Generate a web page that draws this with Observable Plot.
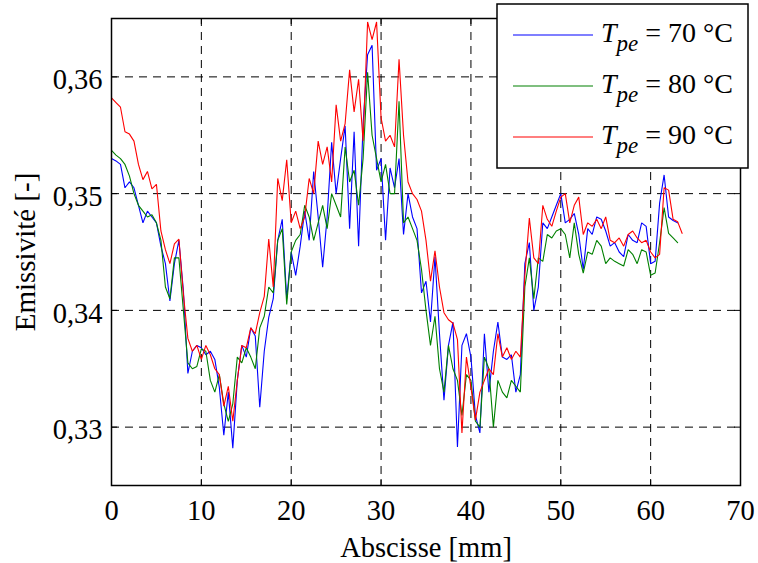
<!DOCTYPE html>
<html>
<head>
<meta charset="utf-8">
<script src="https://cdn.jsdelivr.net/npm/d3@7"></script>
<script src="https://cdn.jsdelivr.net/npm/@observablehq/plot@0.6"></script>
<style>
  html, body { margin: 0; padding: 0; background: white; }
  #chart { width: 758px; height: 563px; }
</style>
</head>
<body>
<div id="chart"></div>
<script>
const abscisse = [
  0,0.5,1,1.5,2,2.5,3,3.5,4,4.5, 5,5.5,6,6.5,7,7.5,8,8.5,9,9.5,
  10,10.5,11,11.5,12,12.5,13,13.5,14,14.5, 15,15.5,16,16.5,17,17.5,18,18.5,19,19.5,
  20,20.5,21,21.5,22,22.5,23,23.5,24,24.5, 25,25.5,26,26.5,27,27.5,28,28.5,29,29.5,
  30,30.5,31,31.5,32,32.5,33,33.5,34,34.5, 35,35.5,36,36.5,37,37.5,38,38.5,39,39.5,
  40,40.5,41,41.5,42,42.5,43,43.5,44,44.5, 45,45.5,46,46.5,47,47.5,48,48.5,49,49.5,
  50,50.5,51,51.5,52,52.5,53,53.5,54,54.5, 55,55.5,56,56.5,57,57.5,58,58.5,59,59.5,
  60,60.5,61,61.5,62,62.5,63,63.5
];

const emis70 = [
  0.3530,0.3528,0.3525,0.3505,0.3510,0.3505,0.3490,0.3475,0.3485,0.3480,
  0.3475,0.3455,0.3440,0.3408,0.3440,0.3460,0.3417,0.3346,0.3365,0.3370,
  0.3368,0.3362,0.3365,0.3358,0.3334,0.3293,0.3330,0.3282,0.3340,0.3370,
  0.3360,0.3385,0.3378,0.3317,0.3365,0.3394,0.3410,0.3460,0.3478,0.3410,
  0.3450,0.3430,0.3455,0.3485,0.3460,0.3519,0.3480,0.3437,0.3480,0.3544,
  0.3500,0.3530,0.3558,0.3470,0.3553,0.3455,0.3560,0.3619,0.3627,0.3520,
  0.3530,0.3460,0.3522,0.3505,0.3530,0.3465,0.3500,0.3480,0.3470,0.3415,
  0.3425,0.3390,0.3446,0.3380,0.3323,0.3370,0.3390,0.3283,0.3370,0.3380,
  0.3360,0.3310,0.3295,0.3380,0.3330,0.3365,0.3390,0.3360,0.3358,0.3362,
  0.3330,0.3345,0.3440,0.3458,0.3400,0.3420,0.3475,0.3470,0.3480,0.3490,
  0.3500,0.3475,0.3478,0.3483,0.3465,0.3435,0.3470,0.3465,0.3480,0.3478,
  0.3468,0.3455,0.3458,0.3450,0.3446,0.3465,0.3460,0.3458,0.3475,0.3472,
  0.3440,0.3442,0.3492,0.3516,0.3480,0.3477,0.3475
];

const emis80 = [
  0.3537,0.3533,0.3530,0.3525,0.3515,0.3500,0.3490,0.3485,0.3480,0.3482,
  0.3475,0.3460,0.3420,0.3410,0.3445,0.3445,0.3400,0.3355,0.3350,0.3352,
  0.3367,0.3365,0.3340,0.3330,0.3345,0.3320,0.3305,0.3320,0.3360,0.3355,
  0.3368,0.3360,0.3350,0.3385,0.3395,0.3420,0.3415,0.3460,0.3470,0.3405,
  0.3450,0.3460,0.3465,0.3490,0.3480,0.3460,0.3475,0.3490,0.3470,0.3500,
  0.3490,0.3480,0.3540,0.3510,0.3520,0.3490,0.3530,0.3604,0.3550,0.3530,
  0.3510,0.3525,0.3500,0.3500,0.3579,0.3475,0.3480,0.3470,0.3460,0.3435,
  0.3400,0.3370,0.3395,0.3350,0.3330,0.3370,0.3350,0.3340,0.3310,0.3345,
  0.3340,0.3305,0.3300,0.3360,0.3350,0.3300,0.3340,0.3330,0.3325,0.3340,
  0.3335,0.3330,0.3420,0.3445,0.3410,0.3445,0.3442,0.3465,0.3462,0.3468,
  0.3470,0.3465,0.3445,0.3475,0.3448,0.3432,0.3450,0.3448,0.3460,0.3455,
  0.3440,0.3445,0.3442,0.3440,0.3438,0.3452,0.3448,0.3440,0.3452,0.3450,
  0.3430,0.3432,0.3458,0.3488,0.3466,0.3462,0.3458
];

const emis90 = [
  0.3582,0.3578,0.3574,0.3553,0.3551,0.3545,0.3525,0.3512,0.3519,0.3504,
  0.3508,0.3468,0.3452,0.3440,0.3457,0.3461,0.3414,0.3376,0.3365,0.3370,
  0.3358,0.3370,0.3362,0.3350,0.3345,0.3318,0.3335,0.3305,0.3340,0.3370,
  0.3368,0.3385,0.3380,0.3398,0.3412,0.3461,0.3420,0.3513,0.3494,0.3529,
  0.3475,0.3485,0.3470,0.3480,0.3513,0.3500,0.3545,0.3525,0.3540,0.3510,
  0.3576,0.3545,0.3560,0.3606,0.3570,0.3598,0.3545,0.3647,0.3632,0.3647,
  0.3565,0.3545,0.3550,0.3540,0.3615,0.3550,0.3510,0.3500,0.3495,0.3485,
  0.3460,0.3425,0.3451,0.3420,0.3398,0.3392,0.3389,0.3375,0.3295,0.3360,
  0.3334,0.3306,0.3330,0.3340,0.3350,0.3345,0.3380,0.3360,0.3368,0.3358,
  0.3365,0.3360,0.3430,0.3479,0.3445,0.3440,0.3490,0.3478,0.3472,0.3485,
  0.3497,0.3500,0.3475,0.3490,0.3497,0.3465,0.3475,0.3472,0.3478,0.3470,
  0.3480,0.3460,0.3458,0.3462,0.3455,0.3465,0.3468,0.3462,0.3458,0.3460,
  0.3450,0.3445,0.3448,0.3505,0.3503,0.3478,0.3476,0.3466
];

const seriesNames = ["70 °C", "80 °C", "90 °C"];
const seriesColors = ["#0000ff", "#008000", "#ff0000"];
const xTicks = [0, 10, 20, 30, 40, 50, 60, 70];
const yTicks = [0.33, 0.34, 0.35, 0.36];
const xLabel = "Abscisse [mm]";
const yLabel = "Emissivité [-]";

const seriesValues = [emis70, emis80, emis90];
const rows = seriesValues.flatMap((vals, s) =>
  vals.map((v, i) => ({x: abscisse[i], y: v, serie: seriesNames[s]})));

const fmtY = d => d.toFixed(2).replace(".", ",");

const plot = Plot.plot({
  width: 758,
  height: 563,
  marginLeft: 111,
  marginRight: 18,
  marginTop: 18,
  marginBottom: 78,
  style: {fontFamily: "'Liberation Serif', 'Times New Roman', serif", fontSize: "28.5px", color: "black", background: "white", overflow: "visible"},
  x: {domain: [0, 70]},
  y: {domain: [0.325, 0.365]},
  color: {domain: seriesNames, range: seriesColors},
  marks: [
    Plot.gridX(xTicks, {stroke: "black", strokeOpacity: 1, strokeWidth: 1, strokeDasharray: "8,6"}),
    Plot.gridY(yTicks, {stroke: "black", strokeOpacity: 1, strokeWidth: 1, strokeDasharray: "8,6"}),
    Plot.line(rows, {x: "x", y: "y", z: "serie", stroke: "serie", strokeWidth: 1.1, strokeLinejoin: "miter"}),
    Plot.tickX(xTicks, {x: d => d, stroke: "black", strokeWidth: 1, insetTop: 461}),
    Plot.tickX(xTicks, {x: d => d, stroke: "black", strokeWidth: 1, insetBottom: 461}),
    Plot.tickY(yTicks, {y: d => d, stroke: "black", strokeWidth: 1, insetRight: 623}),
    Plot.tickY(yTicks, {y: d => d, stroke: "black", strokeWidth: 1, insetLeft: 623}),
    Plot.frame({stroke: "black", strokeWidth: 1.5}),
    Plot.axisX(xTicks, {tickSize: 0, tickPadding: 14, label: null, tickFormat: d => String(d), fontSize: 28.5}),
    Plot.axisY(yTicks, {tickSize: 0, tickPadding: 9, label: null, tickFormat: fmtY, fontSize: 28.5, dy: 3}),
    Plot.text([xLabel], {frameAnchor: "bottom", lineAnchor: "middle", textAnchor: "middle", dy: 62, fontSize: 28.5, text: d => d}),
    Plot.text([yLabel], {frameAnchor: "left", lineAnchor: "middle", textAnchor: "middle", dx: -86, rotate: -90, fontSize: 29, text: d => d})
  ]
});

document.getElementById("chart").appendChild(plot);

// Legend (box with line samples and T_pe labels)
const svg = d3.select(plot);
const lg = svg.append("g").attr("class", "legend").attr("text-anchor", "start");
lg.append("rect")
  .attr("x", 497).attr("y", 4).attr("width", 251).attr("height", 164)
  .attr("fill", "white").attr("stroke", "black").attr("stroke-width", 1.5);
seriesNames.forEach((name, i) => {
  const yLine = 35 + i * 51;
  lg.append("line")
    .attr("x1", 513).attr("x2", 593).attr("y1", yLine).attr("y2", yLine)
    .attr("stroke", seriesColors[i]).attr("stroke-width", 1.1);
  const t = lg.append("text")
    .attr("x", 601).attr("y", yLine + 7)
    .attr("text-anchor", "start")
    .attr("font-size", 28).attr("fill", "black");
  t.append("tspan").attr("font-style", "italic").text("T");
  t.append("tspan").attr("font-style", "italic").attr("font-size", 23).attr("dy", 9).text("pe");
  t.append("tspan").attr("dy", -9).text(" = " + name);
});
</script>
</body>
</html>
